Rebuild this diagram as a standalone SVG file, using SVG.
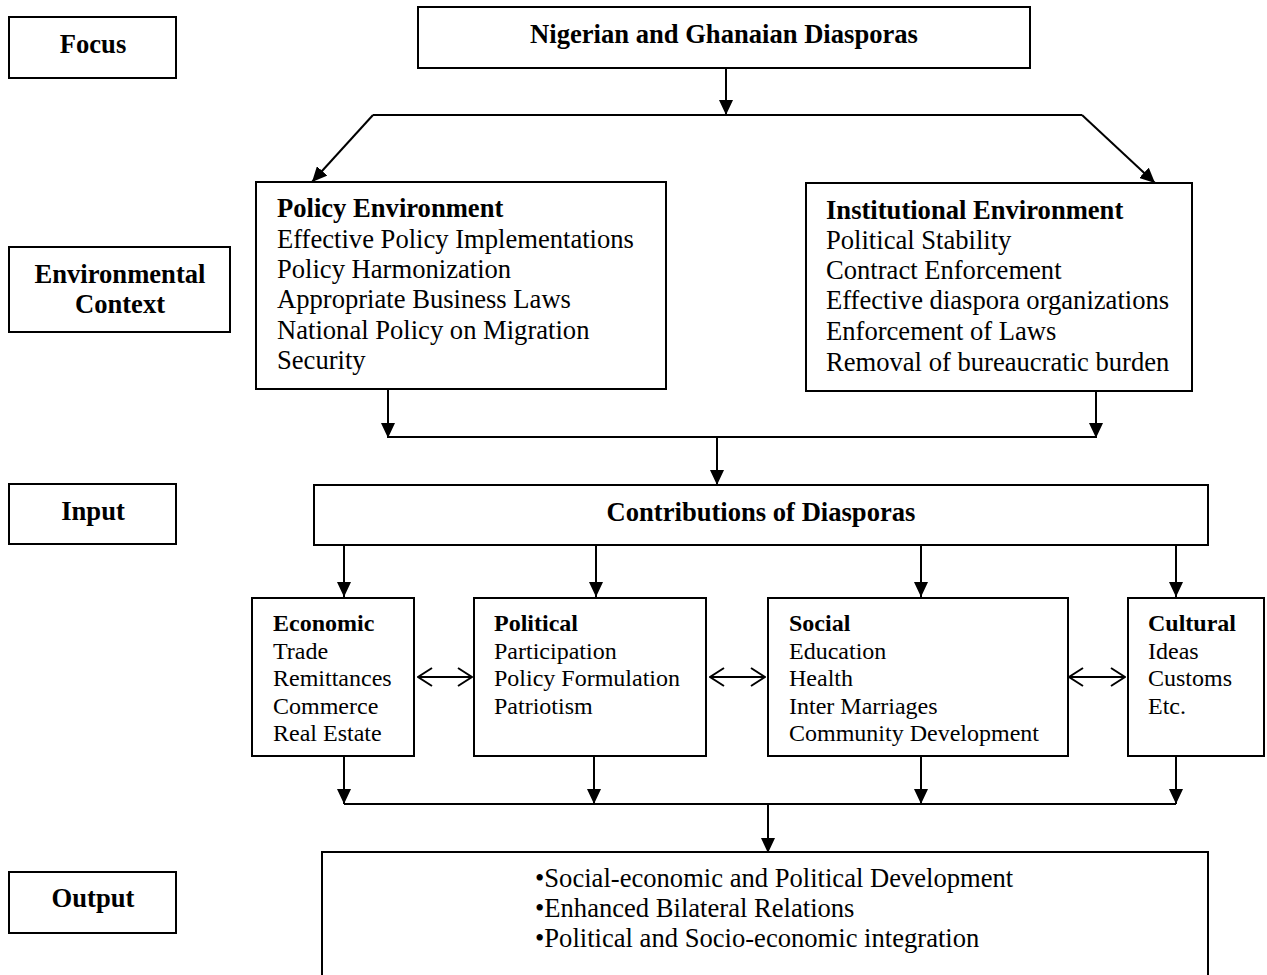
<svg xmlns="http://www.w3.org/2000/svg" width="1267" height="975" viewBox="0 0 1267 975">
<style>
.box{fill:#fff;stroke:#000;stroke-width:2}
.ln{fill:none;stroke:#000;stroke-width:2}
.a{marker-end:url(#arr)}
.d{marker-start:url(#chev);marker-end:url(#chev)}
text{font-family:"Liberation Serif","Times New Roman",serif;fill:#000}
.lb{font-size:26.6px;font-weight:bold;text-anchor:middle}
.t26{font-size:26.6px}
.t24{font-size:24px}
.b{font-weight:bold}
</style>
<defs>
<marker id="arr" viewBox="0 0 15 14" refX="15" refY="7" markerWidth="15" markerHeight="14" markerUnits="userSpaceOnUse" orient="auto"><path d="M0,0 L15,7 L0,14 z" fill="#000"/></marker>
<marker id="chev" viewBox="0 0 16 20" refX="15" refY="10" markerWidth="16" markerHeight="20" markerUnits="userSpaceOnUse" orient="auto-start-reverse"><path d="M1,1 L15,10 L1,19" fill="none" stroke="#000" stroke-width="2"/></marker>
</defs>
<rect width="1267" height="975" fill="#fff"/>

<g id="label-focus"><rect class="box" x="9" y="17" width="167" height="61"/><text class="lb" x="93" y="53">Focus</text></g>
<g id="label-env"><rect class="box" x="9" y="247" width="221" height="85"/><text class="lb" x="120" y="283">Environmental</text><text class="lb" x="120" y="313">Context</text></g>
<g id="label-input"><rect class="box" x="9" y="484" width="167" height="60"/><text class="lb" x="93" y="520">Input</text></g>
<g id="label-output"><rect class="box" x="9" y="872" width="167" height="61"/><text class="lb" x="93" y="907">Output</text></g>

<g id="focus"><rect class="box" x="418" y="7" width="612" height="61"/><text class="lb" x="724" y="43">Nigerian and Ghanaian Diasporas</text></g>

<g id="policy"><rect class="box" x="256" y="182" width="410" height="207"/>
<text class="t26" x="277"><tspan class="b" x="277" y="217">Policy Environment</tspan><tspan x="277" y="248">Effective Policy Implementations</tspan><tspan x="277" y="278">Policy Harmonization</tspan><tspan x="277" y="308">Appropriate Business Laws</tspan><tspan x="277" y="339">National Policy on Migration</tspan><tspan x="277" y="369">Security</tspan></text></g>

<g id="institutional"><rect class="box" x="806" y="183" width="386" height="208"/>
<text class="t26" x="826"><tspan class="b" x="826" y="219">Institutional Environment</tspan><tspan x="826" y="249">Political Stability</tspan><tspan x="826" y="279">Contract Enforcement</tspan><tspan x="826" y="309">Effective diaspora organizations</tspan><tspan x="826" y="340">Enforcement of Laws</tspan><tspan x="826" y="371">Removal of bureaucratic burden</tspan></text></g>

<g id="contributions"><rect class="box" x="314" y="485" width="894" height="60"/><text class="lb" x="761" y="521">Contributions of Diasporas</text></g>

<g id="economic"><rect class="box" x="252" y="598" width="162" height="158"/>
<text class="t24"><tspan class="b" x="273" y="631">Economic</tspan><tspan x="273" y="659">Trade</tspan><tspan x="273" y="686">Remittances</tspan><tspan x="273" y="714">Commerce</tspan><tspan x="273" y="741">Real Estate</tspan></text></g>

<g id="political"><rect class="box" x="474" y="598" width="232" height="158"/>
<text class="t24"><tspan class="b" x="494" y="631">Political</tspan><tspan x="494" y="659">Participation</tspan><tspan x="494" y="686">Policy Formulation</tspan><tspan x="494" y="714">Patriotism</tspan></text></g>

<g id="social"><rect class="box" x="768" y="598" width="300" height="158"/>
<text class="t24"><tspan class="b" x="789" y="631">Social</tspan><tspan x="789" y="659">Education</tspan><tspan x="789" y="686">Health</tspan><tspan x="789" y="714">Inter Marriages</tspan><tspan x="789" y="741">Community Development</tspan></text></g>

<g id="cultural"><rect class="box" x="1128" y="598" width="136" height="158"/>
<text class="t24"><tspan class="b" x="1148" y="631">Cultural</tspan><tspan x="1148" y="659">Ideas</tspan><tspan x="1148" y="686">Customs</tspan><tspan x="1148" y="714">Etc.</tspan></text></g>

<g id="output"><rect class="box" x="322" y="852" width="886" height="140"/>
<text class="t26"><tspan x="535" y="887">•Social-economic and Political Development</tspan><tspan x="535" y="917">•Enhanced Bilateral Relations</tspan><tspan x="535" y="947">•Political and Socio-economic integration</tspan></text></g>

<g id="connectors">
<line class="ln a" x1="726" y1="68" x2="726" y2="115"/>
<line class="ln" x1="373" y1="115" x2="1082" y2="115"/>
<line class="ln a" x1="373" y1="115" x2="312" y2="182"/>
<line class="ln a" x1="1082" y1="115" x2="1155" y2="183"/>
<line class="ln a" x1="388" y1="389" x2="388" y2="438"/>
<line class="ln a" x1="1096" y1="391" x2="1096" y2="438"/>
<line class="ln" x1="388" y1="437" x2="1096" y2="437"/>
<line class="ln a" x1="717" y1="437" x2="717" y2="485"/>
<line class="ln a" x1="344" y1="545" x2="344" y2="597"/>
<line class="ln a" x1="596" y1="545" x2="596" y2="597"/>
<line class="ln a" x1="921" y1="545" x2="921" y2="597"/>
<line class="ln a" x1="1176" y1="545" x2="1176" y2="597"/>
<line class="ln d" x1="418" y1="677" x2="472" y2="677"/>
<line class="ln d" x1="710" y1="677" x2="765" y2="677"/>
<line class="ln d" x1="1069" y1="677" x2="1125" y2="677"/>
<line class="ln a" x1="344" y1="756" x2="344" y2="804"/>
<line class="ln a" x1="594" y1="756" x2="594" y2="804"/>
<line class="ln a" x1="921" y1="756" x2="921" y2="804"/>
<line class="ln a" x1="1176" y1="756" x2="1176" y2="804"/>
<line class="ln" x1="344" y1="804" x2="1176" y2="804"/>
<line class="ln a" x1="768" y1="804" x2="768" y2="853"/>
</g>
</svg>
